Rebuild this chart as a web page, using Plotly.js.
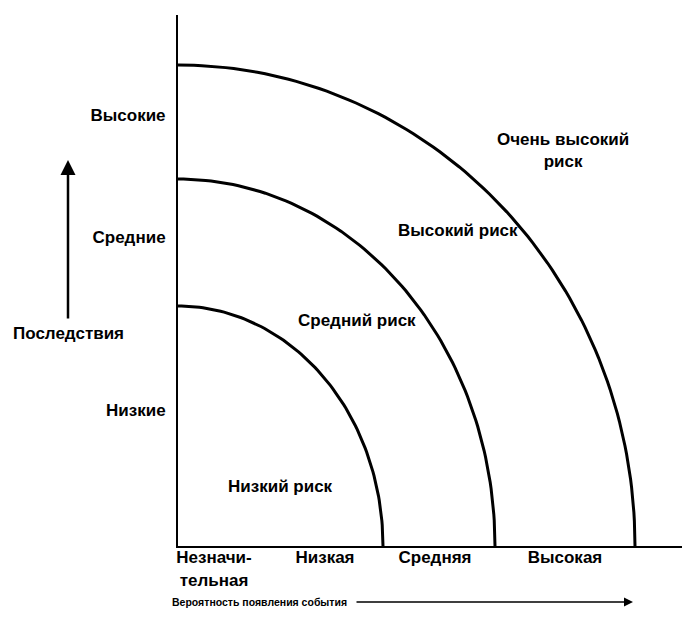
<!DOCTYPE html>
<html>
<head>
<meta charset="utf-8">
<script src="https://cdn.plot.ly/plotly-3.0.1.min.js"></script>
<style>html,body{margin:0;padding:0;background:#fff;}#chart{width:682px;height:632px;}</style>
</head>
<body>
<div id="chart"></div>
<script>
// ---- data (chart units: probability axis 0..504, consequence axis 0..531) ----
var probLabels = ["Незначи-<br>тельная", "Низкая", "Средняя", "Высокая"];
var probTicks = [36, 147, 257, 387];
var consLabels = ["Низкие", "Средние", "Высокие"];
var consTicks = [136, 309, 431];
var zoneNames = ["Низкий риск", "Средний риск", "Высокий риск", "Очень высокий<br>риск"];
var zoneLabelX = [102, 179, 280, 385];
var zoneLabelY = [60, 226, 316, 396];
// risk boundaries: quarter-ellipse semi-axes along probability (x) and consequence (y)
var boundaryRx = [205, 317, 457];
var boundaryRy = [240, 367, 481];
var xTitle = "Вероятность появления события";
var yTitle = "Последствия";

var FONT = "Liberation Sans, Arial, sans-serif";
var FS = 17;
var W = 682, H = 632, ML = 178, MR = 0, MT = 15, MB = 86;
var PW = W - ML - MR, PH = H - MT - MB;
function pxX(p) { return (p - ML) / PW; }
function pxY(p) { return (H - MB - p) / PH; }
var bold = {family: FONT, size: FS, color: "#000", weight: "bold"};

var traces = [];
for (var i = 0; i < boundaryRx.length; i++) {
  var xs = [], ys = [];
  for (var k = 0; k <= 90; k++) {
    var t = k * Math.PI / 180;
    xs.push(boundaryRx[i] * Math.cos(t));
    ys.push(boundaryRy[i] * Math.sin(t));
  }
  traces.push({x: xs, y: ys, type: "scatter", mode: "lines",
    line: {color: "#000", width: 3}, hoverinfo: "skip", showlegend: false});
}

var annotations = [];
for (var j = 0; j < zoneNames.length; j++) {
  annotations.push({x: zoneLabelX[j], y: zoneLabelY[j], xref: "x", yref: "y",
    xanchor: "center", yanchor: "middle",
    text: zoneNames[j], showarrow: false, font: bold});
}
// y title and arrow
annotations.push({x: pxX(68), y: pxY(333), xref: "paper", yref: "paper", text: yTitle,
  xanchor: "center", yanchor: "middle", showarrow: false, font: bold});
annotations.push({x: pxX(68), y: pxY(160), xref: "paper", yref: "paper", text: "",
  showarrow: true, ax: 0, ay: 160, axref: "pixel", ayref: "pixel",
  arrowhead: 2, arrowsize: 1.2, arrowwidth: 2.5, arrowcolor: "#000"});
// x title and arrow
annotations.push({x: pxX(170), y: pxY(602), xref: "paper", yref: "paper", text: xTitle,
  xanchor: "left", yanchor: "middle", showarrow: false,
  font: {family: FONT, size: 10.5, color: "#000", weight: "bold"}});
annotations.push({x: pxX(633), y: pxY(602), xref: "paper", yref: "paper", text: "",
  showarrow: true, ax: -278, ay: 0, axref: "pixel", ayref: "pixel",
  arrowhead: 2, arrowsize: 1.2, arrowwidth: 1.5, arrowcolor: "#000"});

var layout = {
  width: W, height: H,
  margin: {l: ML, r: MR, t: MT, b: MB, pad: 0},
  paper_bgcolor: "#fff", plot_bgcolor: "#fff",
  showlegend: false,
  font: {family: FONT, size: FS, color: "#000"},
  xaxis: {range: [0, PW], showgrid: false, zeroline: false, showline: true,
    linecolor: "#000", linewidth: 2, ticks: "", tickvals: probTicks, ticktext: probLabels,
    tickfont: bold, ticklabelstandoff: -5, fixedrange: true},
  yaxis: {range: [0, PH], showgrid: false, zeroline: false, showline: true,
    linecolor: "#000", linewidth: 2, ticks: "", tickvals: consTicks, ticktext: consLabels,
    tickfont: bold, ticklabelstandoff: 7, fixedrange: true},
  annotations: annotations
};
Plotly.newPlot("chart", traces, layout, {displayModeBar: false, staticPlot: true});
</script>
</body>
</html>
